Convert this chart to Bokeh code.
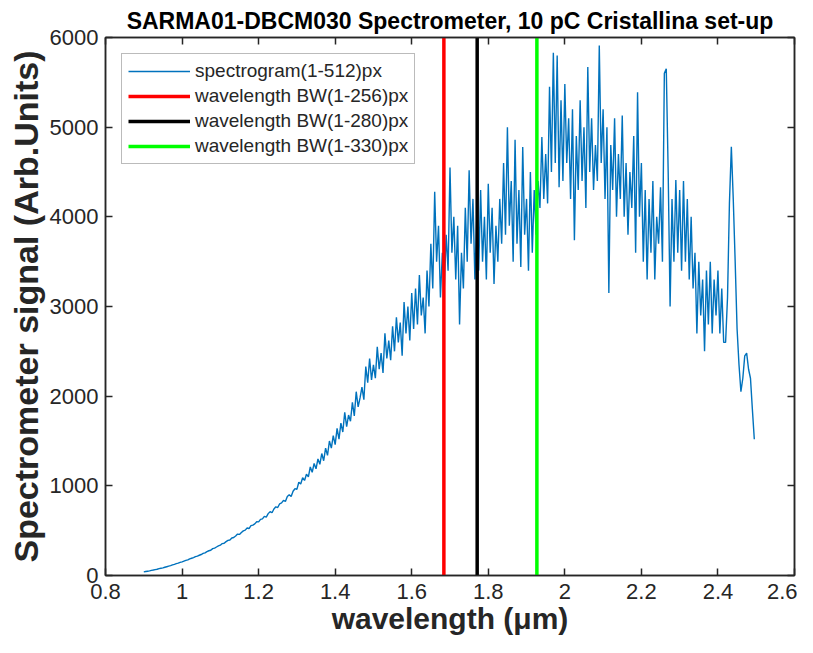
from bokeh.plotting import figure
from bokeh.models import Range1d, FixedTicker, LinearAxis, CustomJSTickFormatter, ColumnDataSource
from bokeh.embed import file_html
from bokeh.resources import INLINE
import numpy as np

# ---- data ----
wl_start = 0.900
wl_end = 2.495
signal = [
    40, 44, 48, 52, 57, 61, 66, 70, 76, 81, 85, 92, 98, 104, 110, 118, 125, 133, 138, 146,
    152, 160, 168, 174, 185, 192, 199, 210, 217, 226, 234, 246, 252, 266, 276, 282, 300, 306, 318, 330,
    338, 356, 360, 378, 392, 396, 418, 424, 440, 462, 458, 480, 498, 506, 530, 524, 556, 562, 576, 600,
    598, 626, 632, 660, 652, 690, 712, 700, 742, 766, 758, 800, 810, 838, 826, 880, 900, 880, 940, 968,
    960, 1040, 1020, 1090, 1060, 1130, 1100, 1210, 1150, 1250, 1190, 1300, 1240, 1360, 1280, 1420, 1340, 1500, 1420, 1560,
    1460, 1640, 1520, 1700, 1600, 1820, 1660, 1790, 1720, 1930, 1780, 2050, 1880, 1980, 2100, 1960, 2330, 2150, 2420, 2180,
    2350, 2200, 2550, 2300, 2480, 2260, 2700, 2420, 2620, 2400, 2780, 2500, 2880, 2600, 2820, 2450, 3050, 2700, 3000, 2620,
    3150, 2750, 3200, 2800, 3350, 2900, 3100, 2700, 3400, 3000, 3700, 3200, 4280, 3500, 3900, 3100, 3600, 3200, 3800, 3400,
    4550, 3600, 4000, 3300, 3900, 2800, 3600, 3200, 4100, 3500, 4520, 3700, 4200, 3300, 4000, 3400, 4300, 3500, 4000, 3300,
    4370, 3600, 4100, 3250, 3900, 3500, 4200, 3700, 4600, 3800, 5000, 3900, 4400, 3500, 4860, 3700, 4300, 3440, 4780, 3800,
    4200, 3400, 4500, 3600, 4300, 3800, 4400, 4100, 4890, 4200, 4700, 4150, 5450, 4500, 5830, 4600, 5800, 4330, 5300, 4400,
    5480, 4600, 5100, 4200, 5200, 3740, 4900, 4300, 5300, 4400, 5000, 4100, 5670, 4500, 5100, 4300, 4800, 4400, 5910, 4600,
    5200, 4200, 5000, 3150, 4800, 4300, 5100, 4000, 4700, 4200, 5130, 4000, 4600, 3800, 4500, 4100, 4900, 3600, 5390, 4000,
    4600, 3500, 4300, 3300, 4200, 3600, 4400, 3300, 4000, 3700, 4330, 3500, 5600, 5650, 4500, 3000, 4200, 3500, 4410, 3600,
    4300, 3400, 4400, 3500, 4200, 3300, 4000, 3200, 3600, 2700, 3500, 2900, 3300, 2500, 3400, 2800, 3500, 2700, 3300, 2900,
    3400, 2700, 3200, 2600, 2600, 3100, 4150, 4780, 4200, 3500, 2750, 2350, 2050, 2200, 2450, 2480, 2300, 2200, 1850, 1520,
]
wavelength = np.linspace(wl_start, wl_end, len(signal))

bw_labels = ["wavelength BW(1-256)px", "wavelength BW(1-280)px", "wavelength BW(1-330)px"]
bw_values = [1.684, 1.771, 1.927]
bw_colors = ["#FF0000", "#000000", "#00FF00"]

x_ticks = [0.8, 1.0, 1.2, 1.4, 1.6, 1.8, 2.0, 2.2, 2.4, 2.6]
x_tick_labels = ["0.8", "1", "1.2", "1.4", "1.6", "1.8", "2", "2.2", "2.4", "2.6"]
y_ticks = [0, 1000, 2000, 3000, 4000, 5000, 6000]

title_text = "SARMA01-DBCM030 Spectrometer, 10 pC Cristallina set-up"
x_label = "wavelength (\u03bcm)"
y_label = "Spectrometer signal (Arb.Units)"

FONT = "Liberation Sans"
AX_COL = "#262626"

p = figure(width=797, height=637, x_range=Range1d(0.8, 2.6), y_range=Range1d(0, 6000),
           output_backend="svg", toolbar_location=None,
           min_border_left=105, min_border_right=3, min_border_top=37, min_border_bottom=40)

p.title.text = title_text
p.title.text_font = FONT
p.title.text_font_size = "23px"
p.title.text_font_style = "bold"
p.title.text_color = "#000000"
p.title.align = "center"
p.title.standoff = 7

p.grid.visible = False
p.outline_line_color = AX_COL
p.outline_line_width = 1.5

src = ColumnDataSource(dict(x=wavelength, y=signal))
p.line("x", "y", source=src, line_color="#0072BD", line_width=1.4, legend_label="spectrogram(1-512)px")

for lab, val, col in zip(bw_labels, bw_values, bw_colors):
    p.segment(x0=[val], y0=[0], x1=[val], y1=[6000], line_color=col, line_width=3.5, legend_label=lab)

def style_axis(ax, show_labels):
    ax.major_tick_in = 7
    ax.major_tick_out = 0
    ax.minor_tick_line_color = None
    ax.axis_line_color = AX_COL
    ax.axis_line_width = 1.5
    ax.major_tick_line_color = AX_COL
    ax.major_tick_line_width = 1.5
    ax.major_label_text_font = FONT
    ax.major_label_text_font_size = "22px"
    ax.major_label_text_color = AX_COL
    if not show_labels:
        ax.formatter = CustomJSTickFormatter(code="return ''")

xa = p.xaxis[0]
xa.ticker = FixedTicker(ticks=x_ticks)
xa.major_label_overrides = {t: l for t, l in zip(x_ticks, x_tick_labels)}
style_axis(xa, True)
xa.major_label_standoff = 8
xa.axis_label = x_label
xa.axis_label_text_font = FONT
xa.axis_label_text_font_size = "30px"
xa.axis_label_text_font_style = "bold"
xa.axis_label_text_color = AX_COL
xa.axis_label_standoff = 0

ya = p.yaxis[0]
ya.ticker = FixedTicker(ticks=y_ticks)
style_axis(ya, True)
ya.major_label_standoff = 7
ya.axis_label = y_label
ya.axis_label_text_font = FONT
ya.axis_label_text_font_size = "34px"
ya.axis_label_text_font_style = "bold"
ya.axis_label_text_color = AX_COL
ya.axis_label_standoff = 2

top = LinearAxis(ticker=FixedTicker(ticks=x_ticks))
style_axis(top, False)
top.major_label_standoff = 0
p.add_layout(top, "above")

right = LinearAxis(ticker=FixedTicker(ticks=y_ticks))
style_axis(right, False)
right.major_label_standoff = 0
p.add_layout(right, "right")

lg = p.legend[0]
lg.location = "top_left"
lg.margin = 16
lg.padding = 6
lg.spacing = 3
lg.glyph_width = 62
lg.glyph_height = 18
lg.label_height = 18
lg.label_standoff = 5
lg.label_text_font = FONT
lg.label_text_font_size = "19px"
lg.label_text_color = AX_COL
lg.border_line_color = "#777777"
lg.border_line_width = 1.5
lg.background_fill_color = "white"
lg.background_fill_alpha = 1.0

open("out.html", "w").write(file_html(p, INLINE))
